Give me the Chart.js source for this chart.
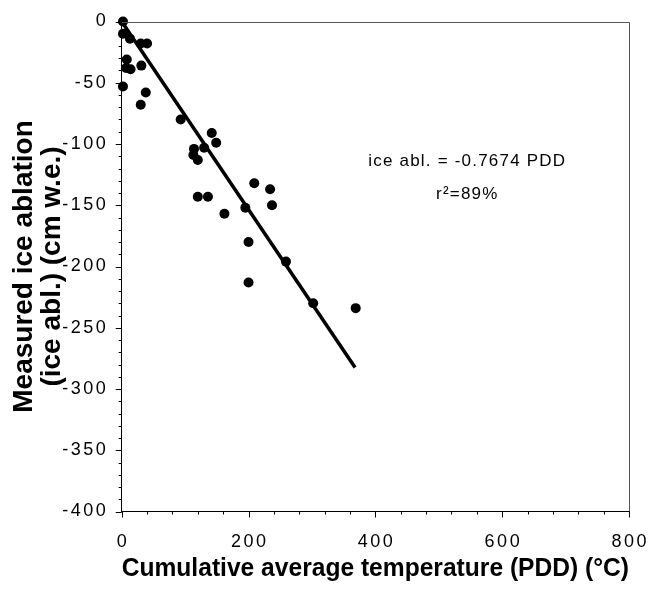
<!DOCTYPE html>
<html>
<head>
<meta charset="utf-8">
<title>Ice ablation vs PDD</title>
<script src="https://cdn.jsdelivr.net/npm/chart.js"></script>
<style>
  body { margin: 0; background: white; }
</style>
</head>
<body>
<canvas id="chart" width="648" height="590"></canvas>
<script>
// measured points
const pdd = [2, 2, 13, 30, 40, 8, 7, 14, 31, 2, 38, 30, 93, 142, 149, 114, 130, 113, 120,
             209, 234, 120, 136, 237, 195, 162, 200, 259, 200, 302, 369];
const ablation = [0, -10, -14, -18, -18, -31, -38, -39, -36, -53, -58, -68, -80, -91, -99, -104, -103, -109, -113,
                  -132, -137, -143, -143, -150, -152, -157, -180, -196, -213, -230, -234];

// regression: ice abl. = -0.7674 PDD
const fitSlope = -0.7674;
const fitRange = [0, 368];

const xTickLabels = [0, 200, 400, 600, 800];
const yTickLabels = [0, -50, -100, -150, -200, -250, -300, -350, -400];
const xMinorStep = 40;
const yMinorStep = 10;

const equationText = 'ice abl. = -0.7674 PDD';
const rSquaredText = 'r\u00B2=89%';
const noteAt = { x: 544, y1: -114, y2: -141 };

const points = pdd.map((x, i) => ({ x: x, y: ablation[i] }));
const fitLine = fitRange.map(x => ({ x: x, y: fitSlope * x }));

const family = '"Liberation Sans", Arial, Helvetica, sans-serif';

// ticks, tick labels, frame and the fit note
const decor = {
  id: 'decor',
  afterDraw(chart) {
    const { ctx, chartArea: a, scales: { x, y } } = chart;
    ctx.save();

    ctx.strokeStyle = '#555';
    ctx.lineWidth = 1;
    ctx.beginPath();
    ctx.moveTo(a.left, Math.round(a.top) + 0.5);
    ctx.lineTo(Math.round(a.right) + 0.5, Math.round(a.top) + 0.5);
    ctx.lineTo(Math.round(a.right) + 0.5, a.bottom);
    ctx.stroke();

    ctx.strokeStyle = '#000';
    ctx.beginPath();
    const xMax = xTickLabels[xTickLabels.length - 1];
    for (let v = xTickLabels[0]; v <= xMax; v += xMinorStep) {
      const px = Math.round(x.getPixelForValue(v)) + 0.5;
      const len = v % 200 === 0 ? 6 : 3;
      ctx.moveTo(px, a.bottom);
      ctx.lineTo(px, a.bottom + len);
    }
    const yMin = yTickLabels[yTickLabels.length - 1];
    for (let v = yTickLabels[0]; v >= yMin; v -= yMinorStep) {
      const py = Math.round(y.getPixelForValue(v)) + 0.5;
      const len = v % 50 === 0 ? 6 : 3;
      ctx.moveTo(a.left, py);
      ctx.lineTo(a.left - len, py);
    }
    ctx.stroke();

    ctx.fillStyle = '#000';
    ctx.font = '18px ' + family;
    ctx.letterSpacing = '2.5px';
    ctx.textBaseline = 'middle';
    ctx.textAlign = 'center';
    xTickLabels.forEach(v => ctx.fillText(String(v), x.getPixelForValue(v) + 1.2, a.bottom + 31));
    ctx.textAlign = 'right';
    yTickLabels.forEach(v => ctx.fillText(String(v), a.left - 13.5, y.getPixelForValue(v)));

    ctx.font = '17px ' + family;
    ctx.letterSpacing = '1.2px';
    ctx.textAlign = 'center';
    ctx.fillText(equationText, x.getPixelForValue(noteAt.x) + 0.6, y.getPixelForValue(noteAt.y1));
    ctx.fillText(rSquaredText, x.getPixelForValue(noteAt.x) + 0.6, y.getPixelForValue(noteAt.y2));

    ctx.restore();
  }
};

new Chart(document.getElementById('chart'), {
  type: 'scatter',
  data: {
    datasets: [
      {
        label: 'measured',
        data: points,
        pointRadius: 5,
        pointBackgroundColor: '#000',
        pointBorderWidth: 0,
        showLine: false,
        clip: false
      },
      {
        label: 'fit',
        data: fitLine,
        showLine: true,
        borderColor: '#000',
        borderWidth: 3.5,
        pointRadius: 0,
        clip: false
      }
    ]
  },
  options: {
    responsive: false,
    animation: false,
    devicePixelRatio: 1,
    layout: { padding: { top: 21.5, right: 19, left: 0, bottom: 0 } },
    plugins: {
      legend: { display: false },
      tooltip: { enabled: false }
    },
    scales: {
      x: {
        type: 'linear',
        min: 0,
        max: 800,
        grid: { display: false },
        border: { color: '#000', width: 1 },
        ticks: { display: false },
        title: {
          display: true,
          text: 'Cumulative average temperature (PDD) (\u00B0C)',
          color: '#000',
          font: { family: family, size: 26, weight: 'bold', lineHeight: 1 },
          padding: { top: 0, bottom: 8 }
        },
        afterFit(scale) { scale.height = 78.5; }
      },
      y: {
        type: 'linear',
        min: -400,
        max: 0,
        grid: { display: false },
        border: { color: '#000', width: 1 },
        ticks: { display: false },
        title: {
          display: true,
          text: ['Measured ice ablation', '(ice abl.) (cm w.e.)'],
          color: '#000',
          font: { family: family, size: 28, weight: 'bold', lineHeight: 1 },
          padding: { top: 10, bottom: 0 }
        },
        afterFit(scale) { scale.width = 121.7; }
      }
    }
  },
  plugins: [decor]
});
</script>
</body>
</html>
